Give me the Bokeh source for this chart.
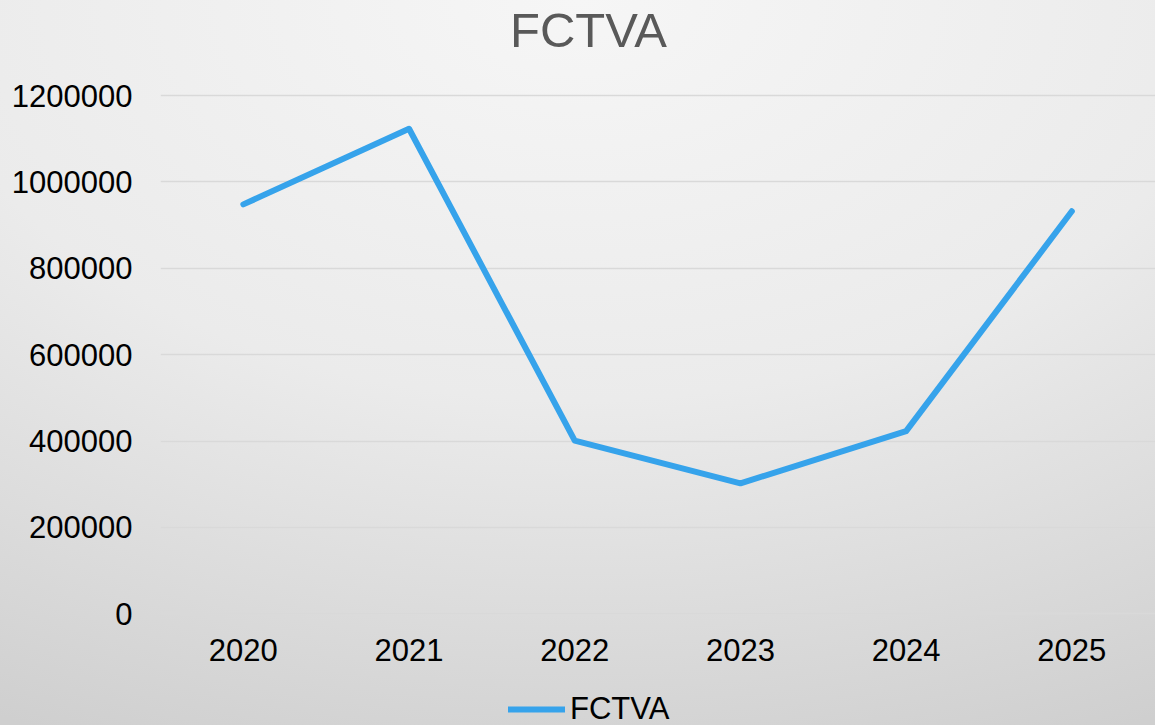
from bokeh.plotting import figure
from bokeh.models import (Range1d, FixedTicker, Legend, LegendItem, Label,
                          GlobalInlineStyleSheet, BasicTickFormatter)
from bokeh.embed import file_html
from bokeh.resources import INLINE

# ---- data ----
years = [2020, 2021, 2022, 2023, 2024, 2025]
fctva = [948000, 1123000, 401000, 302000, 423000, 932000]
y_ticks = [0, 200000, 400000, 600000, 800000, 1000000, 1200000]
series_name = "FCTVA"
title_text = "FCTVA"

FONT = "Liberation Sans"
W, H = 1155, 725

# the frame covers the full height; the value axis occupies 0..1 200 000
p = figure(width=W, height=H, output_backend="svg", toolbar_location=None,
           x_range=Range1d(2019.5, 2025.505), y_range=Range1d(-258600, 1420000),
           min_border_left=160, min_border_right=0, min_border_top=0,
           min_border_bottom=0)
p.background_fill_color = None
p.border_fill_color = None
p.outline_line_color = None

p.stylesheets.append(GlobalInlineStyleSheet(css="""
html { height: 100%;
  background: radial-gradient(ellipse 1300px 800px at 50% 0%, #f6f6f6 0%, #ebebeb 50%, #cfcfcf 100%) no-repeat;
  background-color: #cfcfcf; }
body { background: transparent; }
"""))

# axes
for ax in (p.xaxis[0], p.yaxis[0]):
    ax.axis_line_color = None
    ax.major_tick_line_color = None
    ax.minor_tick_line_color = None
    ax.major_tick_out = 0
    ax.major_tick_in = 0
    ax.major_label_text_font = FONT
    ax.major_label_text_font_size = "31px"
    ax.major_label_text_color = "#000000"
    ax.formatter = BasicTickFormatter(use_scientific=False)

p.yaxis.ticker = FixedTicker(ticks=y_ticks)
p.xaxis.ticker = FixedTicker(ticks=years)
p.yaxis.major_label_standoff = 28
p.xaxis.major_label_standoff = 25
p.xaxis.fixed_location = 0

p.xgrid.visible = False
p.ygrid.grid_line_color = "#d9d9d9"
p.ygrid.grid_line_width = 1.5

r = p.line(years, fctva, line_color="#36A3EB", line_width=6,
           line_cap="round", line_join="round")

title = Label(text=title_text, x=428, y=696, x_units="screen", y_units="screen",
              text_align="center", text_baseline="alphabetic",
              text_font=FONT, text_font_size="49px", text_color="#595959")
p.add_layout(title)

legend = Legend(items=[LegendItem(label=series_name, renderers=[r])],
                location=(348, -2), orientation="horizontal",
                label_text_font=FONT, label_text_font_size="31px",
                label_text_color="#000000", label_standoff=5,
                glyph_width=57, glyph_height=34, label_height=34,
                padding=0, margin=0, spacing=0,
                border_line_color=None, background_fill_alpha=0)
p.add_layout(legend, "center")

open("out.html", "w").write(file_html(p, INLINE))
